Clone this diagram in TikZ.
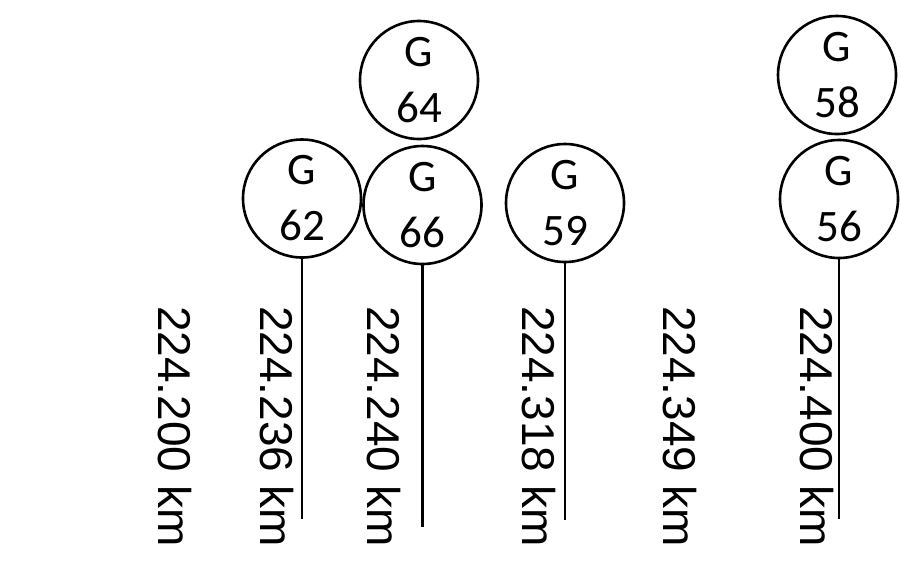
\documentclass[tikz,border=0pt]{standalone}
\usepackage{fontspec}
\newfontfamily\kmfont{Liberation Sans}
\newfontfamily\gfont{Carlito}
\tikzset{
  gen/.style = {circle, draw, line width=2.6pt, minimum size=#1,
                inner sep=0pt, outer sep=0pt, align=center,
                font=\gfont\fontsize{45}{56}\selectfont},
  gen/.default = 118pt,
  km/.style = {rotate=-90, anchor=base west, inner sep=0pt,
               font=\kmfont\fontsize{46}{55}\selectfont}
}

\begin{document}
\begin{tikzpicture}[x=1pt, y=-1pt]
	\def \top{306}
	\def \bot{519}
	
	\useasboundingbox (0,0) rectangle (901,574);
	
	% Generators
	\node[gen] (g64) at (419,80)    {G\\64};
	\node[gen] (g62) at (302,198.5) {G\\62};
	\node[gen] (g66) at (422.5,205) {G\\66};
	\node[gen] (g59) at (565,203)   {G\\59};
	\node[gen] (g58) at (837,75)    {G\\58};
	\node[gen] (g56) at (839,199)   {G\\56};
	
	% Line ends
	\coordinate (e62) at (302,\bot);
	\coordinate (e66) at (422.5,527);
	\coordinate (e59) at (565,520);
	\coordinate (e56) at (839,\bot);
	
	\draw[line width=2.4pt] (g62.south) -- (e62);
	\draw[line width=2.4pt] (g66.south) -- (e66);
	\draw[line width=2.4pt] (g59.south) -- (e59);
	\draw[line width=2.4pt] (g56.south) -- (e56);
	
	% Distances
	\node[km] (d200) at (158,\top) {224.200 km};
	\node[km] (d236) at (260,\top) {224.236 km};
	\node[km] (d240) at (367,\top) {224.240 km};
	\node[km] (d318) at (522,\top) {224.318 km};
	\node[km] (d349) at (663,\top) {224.349 km};
	\node[km] (d400) at (800,\top) {224.400 km};
	
\end{tikzpicture}
\end{document}
